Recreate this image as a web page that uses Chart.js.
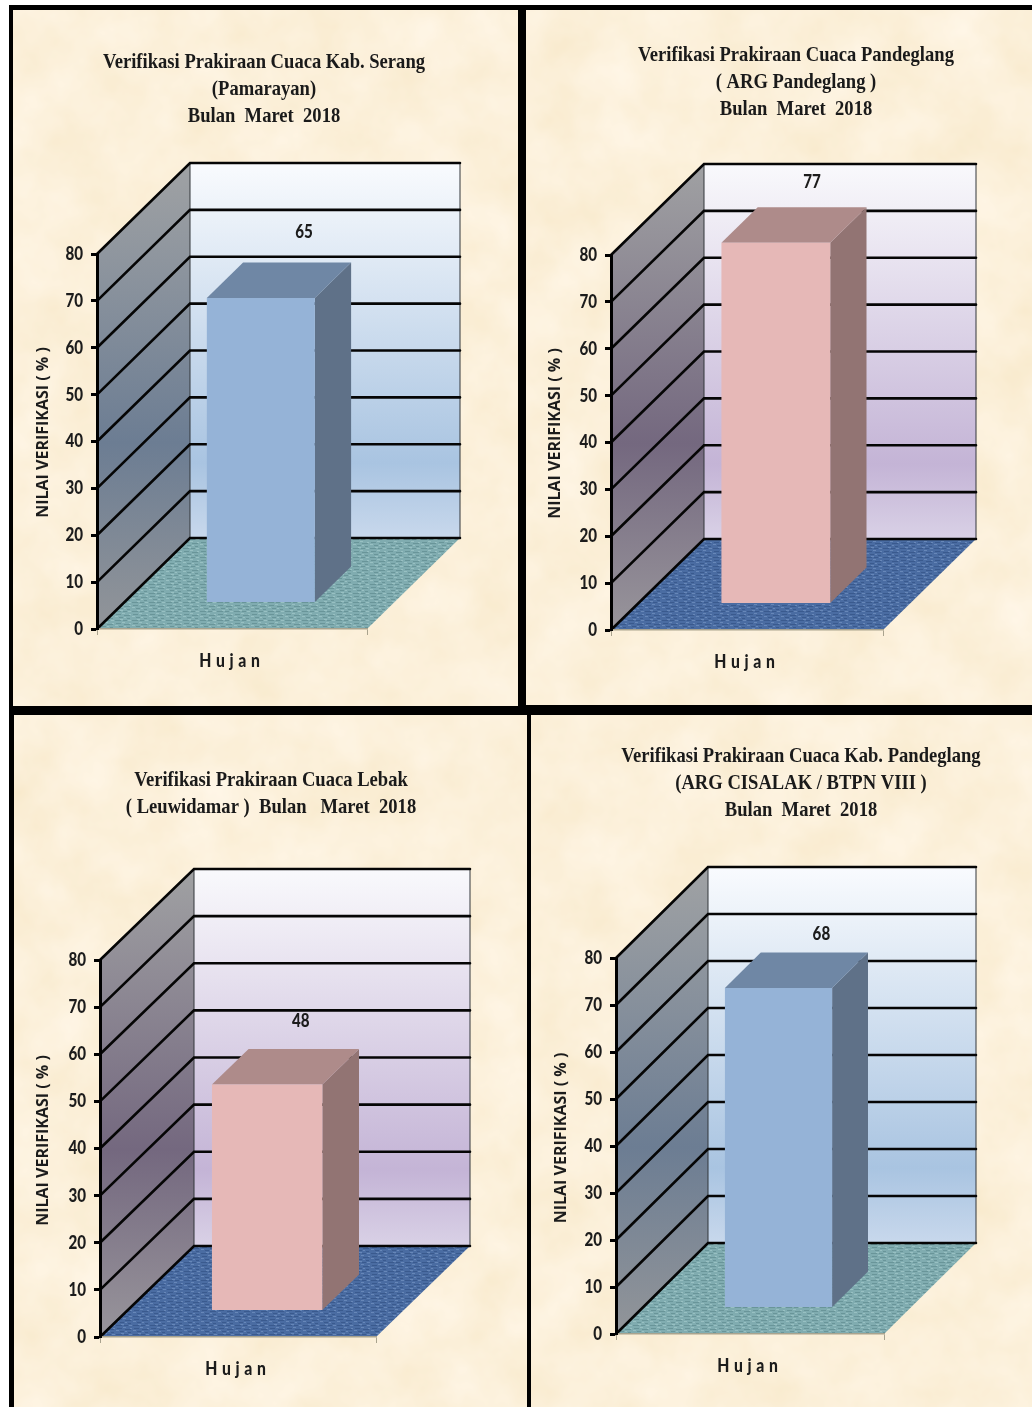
<!DOCTYPE html>
<html>
<head>
<meta charset="utf-8">
<title>Verifikasi Prakiraan Cuaca Maret 2018</title>
<script src="https://cdn.jsdelivr.net/npm/chart.js@4"></script>
<style>
  html, body { margin: 0; padding: 0; background: #fff; }
  body { width: 1032px; height: 1407px; position: relative; overflow: hidden; }
  #frame { position: absolute; left: 8.5px; top: 4.5px; right: 0; bottom: 0; background: #000; }
  .panel {
    position: absolute;
    background-color: #fbf0d8;
    background-image: url("data:image/svg+xml;utf8,<svg xmlns='http://www.w3.org/2000/svg' width='1032' height='1407'><filter id='p' color-interpolation-filters='sRGB' x='0' y='0' width='100%' height='100%'><feTurbulence type='fractalNoise' baseFrequency='0.017' numOctaves='4' seed='7'/><feColorMatrix values='0.03 0 0 0 0.972  0.055 0 0 0 0.914  0.12 0 0 0 0.795  0 0 0 0 1'/></filter><rect width='1032' height='1407' filter='url(%23p)'/></svg>");
  }
  canvas { position: absolute; left: 0; top: 0; }
</style>
</head>
<body>
<div id="frame"></div>
<script>
// Values shown on the four rainfall verification charts
const categories = ['Hujan'];
const yMax = 80;
const yStep = 10;
const yAxisTitle = 'NILAI VERIFIKASI ( % )';

const serangValues = [65];
const pandeglangValues = [77];
const lebakValues = [48];
const cisalakValues = [68];

const serangTitle = ['Verifikasi Prakiraan Cuaca Kab. Serang', '(Pamarayan)', 'Bulan  Maret  2018'];
const pandeglangTitle = ['Verifikasi Prakiraan Cuaca Pandeglang', '( ARG Pandeglang )', 'Bulan  Maret  2018'];
const lebakTitle = ['Verifikasi Prakiraan Cuaca Lebak', '( Leuwidamar )  Bulan   Maret  2018'];
const cisalakTitle = ['Verifikasi Prakiraan Cuaca Kab. Pandeglang', '(ARG CISALAK / BTPN VIII )', 'Bulan  Maret  2018'];

// Colour themes for the 3-D walls, floor and bar faces
const blueTheme = {
  wall: ['#a0a2a4', '#6c7d93', '#929599'],
  back: ['#f9fbfe', '#a9c4e1', '#c8d8ec'],
  floor: ['#80acb0', '#699599', '#98c0c2'],
  front: '#95b3d7', top: '#6f87a5', side: '#5f7188'
};
const roseTheme = {
  wall: ['#a0a1a3', '#74687f', '#98959b'],
  back: ['#f9f9fc', '#c4b4d6', '#d9d1e6'],
  floor: ['#4a6ca2', '#3a5a8e', '#6787b8'],
  front: '#e6b8b7', top: '#ae8b8a', side: '#927473'
};

// Page layout of each chart: panel box, axis origin, plot extent and wall depth
const panels = [
  { values: serangValues, title: serangTitle, theme: blueTheme,
    box: [13, 10, 505, 696], origin: [97, 629], top80: 254, right: 367, depth: [93, -91],
    titleX: 264, titleY: 62, yTitleX: 43, yTitleShift: -9, labelShift: [7, -30] },
  { values: pandeglangValues, title: pandeglangTitle, theme: roseTheme,
    box: [526, 10, 506, 695], origin: [611, 630], top80: 255, right: 883, depth: [93, -91],
    titleX: 796, titleY: 55, yTitleX: 555, yTitleShift: -9, labelShift: [0, -25] },
  { values: lebakValues, title: lebakTitle, theme: roseTheme,
    box: [14, 715, 513, 692], origin: [100, 1337], top80: 960, right: 376, depth: [94, -91],
    titleX: 271, titleY: 780, yTitleX: 43, yTitleShift: -8, labelShift: [-3, -28] },
  { values: cisalakValues, title: cisalakTitle, theme: blueTheme,
    box: [531, 715, 501, 692], origin: [616, 1334], top80: 958, right: 884, depth: [92, -91],
    titleX: 801, titleY: 756, yTitleX: 561, yTitleShift: -8, labelShift: [7, -18] }
];

const barFrontDepth = [0.31, 0.29];
const barBackDepth = 0.39;
const titleSqueeze = 0.845;
const digitSqueeze = 0.82;
const categorySqueeze = 0.85;

// Small woven tile used for the floor texture
function floorPattern(ctx, colors) {
  const tile = document.createElement('canvas');
  tile.width = 17; tile.height = 9;
  const t = tile.getContext('2d');
  t.fillStyle = colors[0]; t.fillRect(0, 0, 17, 9);
  t.fillStyle = colors[1];
  [[1, 1, 5], [9, 2, 6], [4, 4, 4], [12, 5, 3], [0, 7, 6], [8, 7, 4]].forEach(d => t.fillRect(d[0], d[1], d[2], 1));
  t.fillStyle = colors[2];
  [[7, 0, 3], [14, 1, 2], [0, 3, 3], [9, 4, 2], [5, 6, 3], [13, 7, 3]].forEach(d => t.fillRect(d[0], d[1], d[2], 1));
  return ctx.createPattern(tile, 'repeat');
}

function polygon(ctx, pts, fill) {
  ctx.beginPath();
  pts.forEach((p, i) => i ? ctx.lineTo(p[0], p[1]) : ctx.moveTo(p[0], p[1]));
  ctx.closePath();
  ctx.fillStyle = fill;
  ctx.fill();
}

function verticalGradient(ctx, y0, y1, colors, mid) {
  const g = ctx.createLinearGradient(0, y0, 0, y1);
  g.addColorStop(0, colors[0]);
  g.addColorStop(mid, colors[1]);
  g.addColorStop(1, colors[2]);
  return g;
}

// Draws the walls, floor and bar side faces around the library's own bar
const threeDBox = {
  id: 'threeDBox',
  beforeDraw(chart, args, opts) {
    const { ctx, chartArea: a, scales: { y } } = chart;
    const { theme, depth } = opts;
    const [dx, dy] = depth;
    const x0 = a.left, x1 = a.right, y0 = y.getPixelForValue(0), yT = y.getPixelForValue(yMax);
    const bx0 = x0 + dx, bx1 = x1 + dx;
    ctx.save();
    polygon(ctx, [[bx0, yT + dy], [bx1, yT + dy], [bx1, y0 + dy], [bx0, y0 + dy]],
      verticalGradient(ctx, yT + dy, y0 + dy, theme.back, 0.8));
    polygon(ctx, [[x0, y0], [x0, yT], [bx0, yT + dy], [bx0, y0 + dy]],
      verticalGradient(ctx, yT + dy, y0, theme.wall, 0.6));
    polygon(ctx, [[x0, y0], [bx0, y0 + dy], [bx1, y0 + dy], [x1, y0]], floorPattern(ctx, theme.floor));

    ctx.lineWidth = 1;
    ctx.strokeStyle = '#33363a';
    ctx.beginPath();
    ctx.moveTo(bx1, yT + dy); ctx.lineTo(bx1, y0 + dy);
    ctx.moveTo(bx0, yT + dy); ctx.lineTo(bx0, y0 + dy);
    ctx.stroke();

    ctx.strokeStyle = '#050505';
    ctx.lineWidth = 2.6;
    ctx.lineCap = 'round';
    y.ticks.forEach(t => {
      const py = y.getPixelForValue(t.value);
      ctx.beginPath();
      ctx.moveTo(x0, py);
      ctx.lineTo(bx0, py + dy);
      ctx.lineTo(bx1, py + dy);
      ctx.stroke();
    });
    ctx.restore();

    wrapOnce(chart, opts);
  },
  beforeDatasetDraw(chart, args, opts) {
    const { ctx } = chart;
    const { theme, depth } = opts;
    const el = chart.getDatasetMeta(args.index).data[0];
    const fx = depth[0] * barFrontDepth[0], fy = depth[1] * barFrontDepth[1];
    const sx = depth[0] * barBackDepth, sy = depth[1] * barBackDepth;
    const l = el.x - el.width / 2 + fx, r = el.x + el.width / 2 + fx;
    const t = el.y + fy, b = el.base + fy;
    ctx.save();
    polygon(ctx, [[r, t], [r + sx, t + sy], [r + sx, b + sy], [r, b]], theme.side);
    polygon(ctx, [[l, t], [l + sx, t + sy], [r + sx, t + sy], [r, t]], theme.top);
    ctx.translate(fx, fy);
  },
  afterDatasetDraw(chart) {
    chart.ctx.restore();
  },
  afterDatasetsDraw(chart, args, opts) {
    const { ctx } = chart;
    const el = chart.getDatasetMeta(0).data[0];
    const { depth, labelShift } = opts;
    const fx = depth[0] * barFrontDepth[0], fy = depth[1] * barFrontDepth[1];
    const sx = depth[0] * barBackDepth, sy = depth[1] * barBackDepth;
    ctx.save();
    ctx.translate(el.x + fx + sx + labelShift[0], el.y + fy + sy + labelShift[1]);
    ctx.scale(digitSqueeze, 1);
    ctx.font = '900 18.5px Lato, sans-serif';
    ctx.fillStyle = '#1c1c1c';
    ctx.textAlign = 'center';
    ctx.textBaseline = 'middle';
    ctx.fillText(String(chart.data.datasets[0].data[0]), 0, 0);
    ctx.restore();
  }
};

// Condenses the title and axis digits, spaces out the category label and lifts the axis title
function wrapOnce(chart, opts) {
  if (chart.$wrapped) return;
  chart.$wrapped = true;
  const ctx = chart.ctx;
  const tb = chart.titleBlock;
  const drawTitle = tb.draw.bind(tb);
  tb.draw = function () {
    tb.left = 0;
    tb.right = chart.width * 2;
    tb.width = chart.width * 2;
    const cx = tb.width / 2;
    ctx.save();
    ctx.translate(opts.titleCenter, 0);
    ctx.scale(titleSqueeze, 1);
    ctx.translate(-cx, 0);
    drawTitle();
    ctx.restore();
  };
  const xs = chart.scales.x;
  const drawXLabels = xs.drawLabels.bind(xs);
  xs.drawLabels = function (area) {
    const cx = (xs.left + xs.right) / 2;
    ctx.save();
    ctx.translate(cx, 0);
    ctx.scale(categorySqueeze, 1);
    ctx.translate(-cx, 0);
    ctx.letterSpacing = '5.5px';
    drawXLabels(area);
    ctx.restore();
  };
  const ys = chart.scales.y;
  const drawYLabels = ys.drawLabels.bind(ys);
  ys.drawLabels = function (area) {
    ctx.save();
    ctx.translate(ys.right, 0);
    ctx.scale(digitSqueeze, 1);
    ctx.translate(-ys.right, 0);
    drawYLabels(area);
    ctx.restore();
  };
  const drawYTitle = ys.drawTitle.bind(ys);
  ys.drawTitle = function () {
    ctx.save();
    ctx.translate(0, opts.yTitleShift);
    drawYTitle();
    ctx.restore();
  };
}

Chart.register(threeDBox);

panels.forEach(p => {
  const [bx, by, bw, bh] = p.box;
  const panel = document.createElement('div');
  panel.className = 'panel';
  panel.style.cssText = `left:${bx}px;top:${by}px;width:${bw}px;height:${bh}px;background-position:${-bx}px ${-by}px`;
  const canvas = document.createElement('canvas');
  canvas.width = bw; canvas.height = bh;
  panel.appendChild(canvas);
  document.body.appendChild(panel);

  const titleLine = 27;
  const titlePadTop = p.titleY - titleLine / 2 - by;
  const titlePadBottom = p.top80 - by - titlePadTop - p.title.length * titleLine;
  const yFontSize = 16;

  new Chart(canvas, {
    type: 'bar',
    data: {
      labels: categories,
      datasets: [{
        data: p.values,
        backgroundColor: p.theme.front,
        borderWidth: 0,
        barPercentage: 0.4,
        categoryPercentage: 1,
        clip: false
      }]
    },
    options: {
      responsive: false,
      animation: false,
      devicePixelRatio: 1,
      layout: { padding: { left: 0, top: 0, bottom: 0, right: bx + bw - p.right } },
      scales: {
        x: {
          afterFit(s) { s.height = by + bh - p.origin[1]; },
          border: { color: '#a9a38e', width: 1.5 },
          grid: { offset: true, drawOnChartArea: false, drawTicks: true, tickLength: 6, tickColor: '#a9a38e', tickWidth: 1 },
          ticks: {
            color: '#1c1c1c', padding: 15, maxRotation: 0,
            font: { family: 'Lato, sans-serif', weight: '900', size: 18.5 }
          }
        },
        y: {
          min: 0, max: yMax,
          afterFit(s) { s.width = p.origin[0] - bx; },
          border: { color: '#000', width: 3 },
          grid: { drawOnChartArea: false, tickLength: 6, tickColor: '#000', tickWidth: 3 },
          ticks: {
            stepSize: yStep, color: '#1c1c1c', padding: 11,
            font: { family: 'Lato, sans-serif', weight: '900', size: 18.5 }
          },
          title: {
            display: true, text: yAxisTitle, color: '#1c1c1c',
            padding: { top: p.yTitleX - bx - yFontSize * 0.6, bottom: 0 },
            font: { family: '"Open Sans", sans-serif', weight: 'bold', size: yFontSize }
          }
        }
      },
      plugins: {
        legend: { display: false },
        tooltip: { enabled: false },
        title: {
          display: true, text: p.title, color: '#1a1a1a',
          padding: { top: titlePadTop, bottom: titlePadBottom },
          font: { family: '"Liberation Serif", serif', weight: 'bold', size: 22, lineHeight: titleLine / 22 }
        },
        threeDBox: {
          theme: p.theme,
          depth: p.depth,
          labelShift: p.labelShift,
          titleCenter: p.titleX - bx,
          yTitleShift: p.yTitleShift
        }
      }
    }
  });
});
</script>
</body>
</html>
